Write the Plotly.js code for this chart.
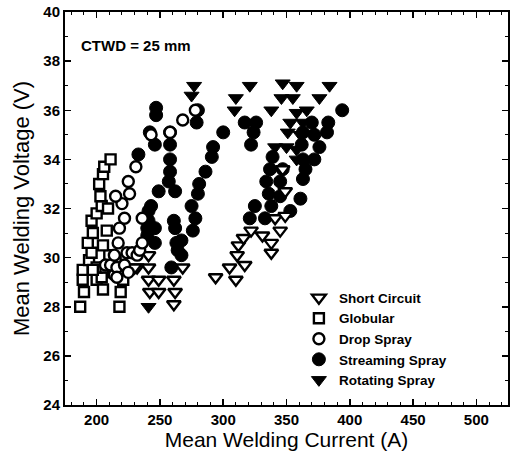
<!DOCTYPE html>
<html>
<head>
<meta charset="utf-8">
<script src="https://cdn.plot.ly/plotly-3.0.1.min.js"></script>
<style>html,body{margin:0;padding:0;background:#fff;}#chart{width:510px;height:456px;}</style>
</head>
<body>
<div id="chart"></div>
<script>
// Short Circuit (open down-triangles)
const shortX = [232,241,241,241,249,242,249,261,262,261,268,230,294,305,310,317,311,312,316,322,331,338,338,345,341,349,349,347];
const shortY = [29.6,30.1,29.6,29.1,29.1,28.6,28.6,29.1,28.6,28.1,29.6,29.6,29.2,29.6,29.1,29.7,30.1,30.5,30.8,31.1,30.9,30.6,30.2,31.1,31.6,31.7,32.7,33.6];
// Globular (open squares)
const globX = [187,190,189,189,194,196,193,197,196,200,204,203,202,205,206,211,200,204,200,205,218,219,221,207,210,205,208,209,213,197,215];
const globY = [28.0,28.6,29.1,29.5,29.9,30.2,30.6,31.0,31.5,31.8,32.1,32.5,33.0,33.4,33.7,34.0,29.1,29.2,29.6,28.7,28.0,28.6,29.1,29.6,30.1,30.5,31.1,32.0,29.4,29.5,29.9];
// Drop Spray (open circles)
const dropX = [214,207,211,216,216,222,225,214,224,228,232,217,234,236,218,222,236,220,215,226,225,231,243,258,268,278];
const dropY = [29.3,29.7,29.7,29.6,29.2,29.7,29.4,30.1,30.2,30.2,30.1,30.6,30.3,30.6,31.2,31.6,31.6,32.2,32.5,32.6,33.1,33.7,35.0,35.1,35.6,36.0];
// Streaming Spray (filled circles)
const streamX = [247,247,242,258,246,258,233,258,258,257,249,262,243,241,261,262,241,240,246,240,263,264,259,246,
                 280,279,300,292,291,286,281,280,275,278,276,267,267,
                 317,326,324,322,339,347,337,334,345,363,336,345,361,325,338,353,321,333,
                 394,383,382,372,376,372,363,365,362,370,363];
const streamY = [36.1,35.8,35.1,35.1,34.6,34.6,34.2,34.0,33.5,33.1,32.7,32.7,32.1,31.9,31.5,31.2,31.5,31.2,31.2,30.9,30.6,30.3,29.6,30.6,
                 36.0,35.5,35.1,34.5,34.1,33.5,33.0,32.6,32.1,31.6,31.1,30.7,30.1,
                 35.5,35.5,35.1,34.6,34.1,33.6,33.6,33.1,33.1,33.2,32.6,32.5,32.4,32.1,32.1,31.9,31.6,31.6,
                 36.0,35.5,35.1,35.0,34.5,34.0,34.0,33.6,34.6,35.5,35.1];
// Rotating Spray (filled down-triangles)
const rotX = [277,275,321,310,309,338,347,358,346,355,358,366,376,384,353,363,351,361,341,350,358,358,241];
const rotY = [37.0,36.6,37.0,36.5,36.0,36.0,37.1,37.0,36.5,36.5,35.9,36.0,36.5,37.0,35.5,35.5,35.1,35.0,34.5,34.5,34.4,34.0,28.0];

const xTicks = [200,250,300,350,400,450,500];
const yTicks = [24,26,28,30,32,34,36,38,40];

const FONT = 'Liberation Sans, Arial, Helvetica, sans-serif';
function tr(name, x, y, symbol, fill, size, lw, rank) {
  return {
    type: 'scatter', mode: 'markers', name: name, x: x, y: y, legendrank: rank,
    marker: {symbol: symbol, size: size, color: fill, line: {color: 'black', width: lw}}
  };
}
const data = [
  tr('Streaming Spray', streamX, streamY, 'circle', 'black', 13, 1, 4),
  tr('Rotating Spray', rotX, rotY, 'triangle-down', 'black', 13, 1, 5),
  tr('Short Circuit', shortX, shortY, 'triangle-down', 'white', 12, 2.4, 1),
  tr('Globular', globX, globY, 'square', 'white', 10, 2.4, 2),
  tr('Drop Spray', dropX, dropY, 'circle', 'white', 11, 2.4, 3)
];

const axisCommon = {
  showline: true, linecolor: 'black', linewidth: 2, mirror: 'ticks',
  ticks: 'inside', ticklen: 6, tickwidth: 1.5, tickcolor: 'black',
  showgrid: false, zeroline: false,
  tickfont: {family: FONT, size: 15, color: 'black', weight: 'bold'}
};
const layout = {
  width: 510, height: 456,
  margin: {l: 65, r: 2, t: 12, b: 51},
  paper_bgcolor: 'white', plot_bgcolor: 'white',
  showlegend: true,
  legend: {x: 0.528, y: 0.312, xanchor: 'left', yanchor: 'top', bgcolor: 'rgba(0,0,0,0)',
           font: {family: FONT, size: 13.5, color: 'black', weight: 'bold'}, itemwidth: 30, tracegroupgap: 0},
  xaxis: Object.assign({}, axisCommon, {
    range: [175, 525], tickvals: xTicks,
    minor: {dtick: 10, ticks: 'inside', ticklen: 3, tickwidth: 1, tickcolor: 'black'},
    title: {text: 'Mean Welding Current (A)', font: {family: FONT, size: 21, color: 'black'}, standoff: 5}
  }),
  yaxis: Object.assign({}, axisCommon, {
    range: [24, 40], tickvals: yTicks,
    minor: {dtick: 1, ticks: 'inside', ticklen: 3, tickwidth: 1, tickcolor: 'black'},
    title: {text: 'Mean Welding Voltage (V)', font: {family: FONT, size: 22, color: 'black'}, standoff: 8}
  }),
  annotations: [{
    xref: 'paper', yref: 'paper', x: 0.032, y: 0.916, xanchor: 'left', yanchor: 'middle',
    text: 'CTWD = 25 mm', showarrow: false,
    font: {family: FONT, size: 15, color: 'black', weight: 'bold'}
  }]
};
Plotly.newPlot('chart', data, layout, {displayModeBar: false, staticPlot: true});
</script>
</body>
</html>
